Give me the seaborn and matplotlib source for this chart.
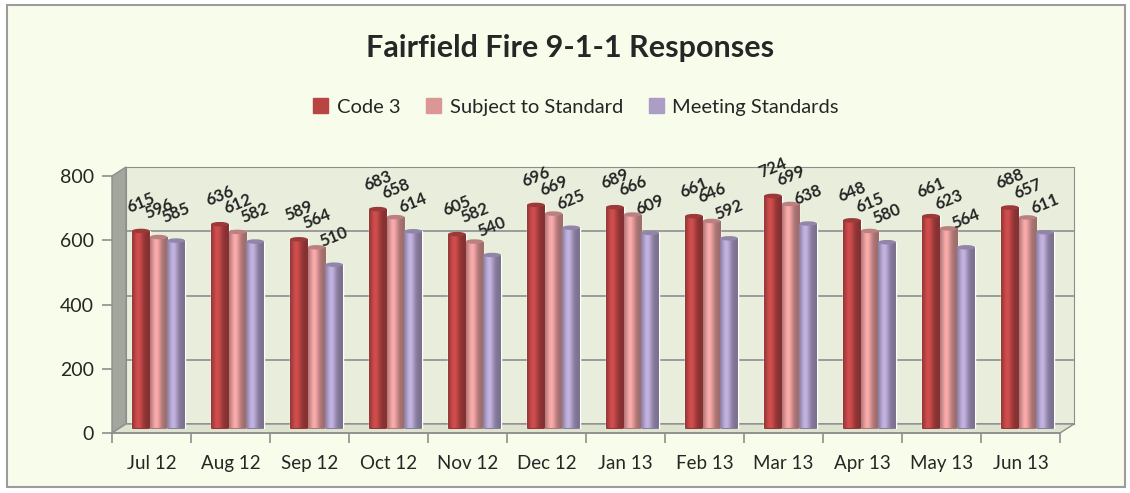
import numpy as np
import pandas as pd
import matplotlib
matplotlib.use('Agg')
import matplotlib.pyplot as plt
import matplotlib.patches as mpatches
import seaborn as sns

# data
months = ['Jul 12', 'Aug 12', 'Sep 12', 'Oct 12', 'Nov 12', 'Dec 12',
          'Jan 13', 'Feb 13', 'Mar 13', 'Apr 13', 'May 13', 'Jun 13']
code3 = [615, 636, 589, 683, 605, 696, 689, 661, 724, 648, 661, 688]
subject = [596, 612, 564, 658, 582, 669, 666, 646, 699, 615, 623, 657]
meeting = [585, 582, 510, 614, 540, 625, 609, 592, 638, 580, 564, 611]
series = ['Code 3', 'Subject to Standard', 'Meeting Standards']
colors = ['#B84444', '#DC9696', '#AC9DC6']

df = pd.DataFrame({'month': months * 3,
                   'series': np.repeat(series, len(months)),
                   'value': code3 + subject + meeting})

sns.set_style('white')
plt.rcParams['font.family'] = ['Lato', 'DejaVu Sans']

W, H = 1130, 493
fig = plt.figure(figsize=(W / 100, H / 100), dpi=100)
fig.patch.set_facecolor('white')

def fx(x):
    return x / W

def fy(y):
    return 1 - y / H

# outer frame
frame = mpatches.Rectangle((fx(7), fy(487)), fx(1118), (487 - 5) / H,
                           transform=fig.transFigure, facecolor='#F8FCEA',
                           edgecolor='#9C9C9C', lw=1.5, zorder=-3)
fig.patches.append(frame)

# geometry of the plot area (pixels)
L, R, T, B = 112, 1060, 176, 433
dx, dy = 14, 9
aw, ah = (R - L) / W, (B - T) / H

# back wall
ax_bg = fig.add_axes([fx(L + dx), fy(B - dy), aw, ah])
ax_bg.set_zorder(-2)
ax_bg.set_facecolor('#E9EEDC')
ax_bg.set_ylim(0, 800)
ax_bg.set_yticks([0, 200, 400, 600, 800])
ax_bg.set_xticks([])
ax_bg.tick_params(left=False, labelleft=False)
ax_bg.grid(axis='y', color='#8E8E8E', lw=1.2)
for s in ax_bg.spines.values():
    s.set_color('#8E8E8E')

# side wall and floor
side = mpatches.Polygon([(fx(L), fy(B)), (fx(L + dx), fy(B - dy)),
                         (fx(L + dx), fy(T - dy)), (fx(L), fy(T))],
                        closed=True, transform=fig.transFigure,
                        facecolor='#A3A69C', edgecolor='#8E8E8E', lw=1,
                        zorder=-1)
floor = mpatches.Polygon([(fx(L), fy(B)), (fx(R), fy(B)),
                          (fx(R + dx), fy(B - dy)), (fx(L + dx), fy(B - dy))],
                         closed=True, transform=fig.transFigure,
                         facecolor='#DDE3CF', edgecolor='#8E8E8E', lw=1,
                         zorder=-1)
fig.patches.extend([side, floor])

# front axis: ticks and labels only
ax = fig.add_axes([fx(L), fy(B), aw, ah])
ax.set_zorder(0)
ax.set_facecolor('none')
ax.set_xlim(-0.5, 11.5)
ax.set_ylim(0, 800)
ax.set_xticks(range(len(months)))
ax.set_xticklabels(months)
ax.set_yticks([0, 200, 400, 600, 800])
for s in ['top', 'right', 'left']:
    ax.spines[s].set_visible(False)
ax.spines['bottom'].set_color('#8E8E8E')
ax.spines['bottom'].set_linewidth(1.2)
ax.tick_params(axis='y', left=True, length=7, color='#8E8E8E', width=1.2,
               labelsize=14, pad=6)
ax.tick_params(axis='x', bottom=False, labelsize=13.5, pad=12)
ax.set_xticks(np.arange(-0.5, 12, 1), minor=True)
ax.tick_params(axis='x', which='minor', bottom=True, length=7,
               color='#8E8E8E', width=1.2)

# bars sit half way into the depth of the box
axb = fig.add_axes([fx(L + dx / 2), fy(B - dy / 2), aw, ah])
axb.set_zorder(1)
axb.set_facecolor('none')
sns.barplot(data=df, x='month', y='value', hue='series', palette=colors,
            width=0.67, saturation=1, ax=axb, legend=False)
axb.set_axis_off()

# cylinder shading on each seaborn bar
t = np.linspace(0, 1, 64)
prof = 0.72 + 0.42 * np.exp(-((t - 0.35) / 0.28) ** 2)
for cont, col in zip(axb.containers, colors):
    base = np.array(matplotlib.colors.to_rgb(col))
    grad = np.clip(base[None, :] * prof[:, None], 0, 1)[None, :, :]
    for p in cont.patches:
        x0, y0 = p.get_x(), p.get_y()
        w, h = p.get_width(), p.get_height()
        im = axb.imshow(grad, extent=[x0, x0 + w, y0, y0 + h], aspect='auto',
                        zorder=p.get_zorder() + 0.1, interpolation='bilinear')
        im.set_clip_path(p)
        top = mpatches.Ellipse((x0 + w / 2, y0 + h), w, 14,
                               facecolor=np.clip(base * 0.85, 0, 1),
                               edgecolor='none', zorder=p.get_zorder() + 0.2)
        axb.add_patch(top)
        bot = mpatches.Ellipse((x0 + w / 2, y0), w, 10,
                               facecolor=np.clip(base * 0.8, 0, 1),
                               edgecolor='none', zorder=p.get_zorder() + 0.05)
        axb.add_patch(bot)
    axb.bar_label(cont, fmt='%d', rotation=22, fontsize=12,
                  fontweight='bold', padding=11)
axb.set_xlim(-0.5, 11.5)
axb.set_ylim(0, 800)

# legend
handles = [mpatches.Patch(color=c, label=s) for c, s in zip(colors, series)]
fig.legend(handles=handles, loc='center', bbox_to_anchor=(fx(576), fy(107)),
           ncol=3, frameon=False, fontsize=14.5, handlelength=0.75,
           handleheight=0.75, handletextpad=0.4, columnspacing=1.3)

fig.text(fx(570), fy(48), 'Fairfield Fire 9-1-1 Responses', ha='center',
         va='center', fontsize=22, fontweight='bold')

fig.savefig('out.png', dpi=100)
